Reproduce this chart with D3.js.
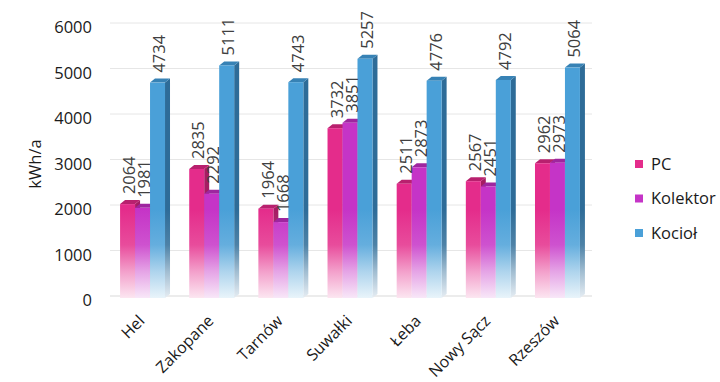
<!DOCTYPE html>
<html><head><meta charset="utf-8">
<script src="https://cdn.jsdelivr.net/npm/d3@7"></script>
<style>body{margin:0;background:#fff;}svg{display:block;}text{font-family:"Open Sans",sans-serif;}</style>
</head><body>
<svg id="c" width="720" height="382"></svg>
<script>
const cities = ["Hel","Zakopane","Tarnów","Suwałki","Łeba","Nowy Sącz","Rzeszów"];
const seriesNames = ["PC","Kolektor","Kocioł"];
const pcValues = [2064,2835,1964,3732,2511,2567,2962];
const kolektorValues = [1981,2292,1668,3851,2873,2451,2973];
const kociolValues = [4734,5111,4743,5257,4776,4792,5064];
const yTicks = [0,1000,2000,3000,4000,5000,6000];
const yTitle = "kWh/a";

const colors = ["#E42C8B","#C534C7","#4AA0D8"];
const sideColors = ["#A51C63","#8A1F8C","#2E6C98"];
const topColors = ["#B8206E","#9E269F","#3782B5"];
const values = [pcValues, kolektorValues, kociolValues];

const svg = d3.select("#c");
const L = 110, R = 592, T = 23, B = 296;
const y = d3.scaleLinear().domain([0,6000]).range([B,T]);
const x0 = d3.scaleBand().domain(cities).range([L,R]).paddingInner(0.35).paddingOuter(0.16);
const x1 = d3.scaleBand().domain(seriesNames).range([0,x0.bandwidth()]);
const dx = 5, dy = 4;

const defs = svg.append("defs");
function grad(id, c){
  const g = defs.append("linearGradient").attr("id",id).attr("gradientUnits","userSpaceOnUse")
    .attr("x1",0).attr("x2",0).attr("y1",y(0)+2).attr("y2",y(1900));
  const w = d3.interpolateRgb("#ffffff", c);
  g.append("stop").attr("offset",0).attr("stop-color",w(0.12));
  g.append("stop").attr("offset",0.3).attr("stop-color",w(0.45));
  g.append("stop").attr("offset",0.6).attr("stop-color",w(0.85));
  g.append("stop").attr("offset",1).attr("stop-color",c);
}
colors.forEach((c,i)=>{grad("f"+i,c); grad("s"+i,sideColors[i]);});

// gridlines
svg.append("g").selectAll("line").data(yTicks).join("line")
  .attr("x1",L).attr("x2",R).attr("y1",d=>y(d)).attr("y2",d=>y(d))
  .attr("stroke",d=>d===0?"#d9d9d9":"#e6e6e6").attr("stroke-width",1);

// y axis (labels sit on the front plane, slightly below the back-wall gridlines)
const ya = svg.append("g").attr("transform",`translate(${L-18},4.5)`)
  .call(d3.axisLeft(y).tickValues(yTicks).tickSize(0).tickPadding(0).tickFormat(d3.format("d")));
ya.select(".domain").remove();
ya.selectAll("text").attr("font-size","16.5px").attr("fill","#1a1a1a").attr("font-family","Open Sans");

svg.append("text").attr("transform","translate(41,164) rotate(-90)")
  .attr("text-anchor","middle").attr("font-size","16.5px").attr("fill","#1a1a1a").text(yTitle);

// bars
const groups = svg.append("g").selectAll("g").data(cities).join("g")
  .attr("transform",d=>`translate(${x0(d)-1},0)`);
groups.each(function(city, ci){
  const g = d3.select(this);
  seriesNames.forEach((s,si)=>{
    const v = values[si][ci];
    const bx = x1(s), bw = x1.bandwidth();
    const top = y(v)+2;
    const bot = y(0)+2;
    g.append("path").attr("d",`M${bx+bw},${top} L${bx+bw+dx},${top-dy} L${bx+bw+dx},${bot-dy} L${bx+bw},${bot} Z`)
      .attr("fill",`url(#s${si})`);
    g.append("path").attr("d",`M${bx},${top} L${bx+dx},${top-dy} L${bx+bw+dx},${top-dy} L${bx+bw},${top} Z`)
      .attr("fill",topColors[si]);
    g.append("rect").attr("x",bx).attr("y",top).attr("width",bw).attr("height",bot-top)
      .attr("fill",`url(#f${si})`);
  });
  seriesNames.forEach((s,si)=>{
    const v = values[si][ci];
    const cx = x1(s)+x1.bandwidth()/2+2;
    g.append("text").attr("transform",`translate(${cx},${y(v)-8}) rotate(-90)`)
      .attr("dy","0.35em").attr("text-anchor","start").attr("font-size","16.5px")
      .attr("fill","#404040").text(v);
  });
});

// x labels
svg.append("g").selectAll("text").data(cities).join("text")
  .attr("transform",d=>`translate(${x0(d)+x0.bandwidth()/2+2},${B+26}) rotate(-45)`)
  .attr("text-anchor","end").attr("font-size","16px").attr("fill","#1a1a1a").text(d=>d);

// legend
const lg = svg.append("g").selectAll("g").data(seriesNames).join("g")
  .attr("transform",(d,i)=>`translate(635,${164+i*34.5})`);
lg.append("rect").attr("x",0).attr("y",-4).attr("width",8).attr("height",8)
  .attr("fill",(d,i)=>colors[i]);
lg.append("text").attr("x",16).attr("dy","0.35em").attr("font-size","16.5px").attr("fill","#1a1a1a").text(d=>d);
</script>
</body></html>
